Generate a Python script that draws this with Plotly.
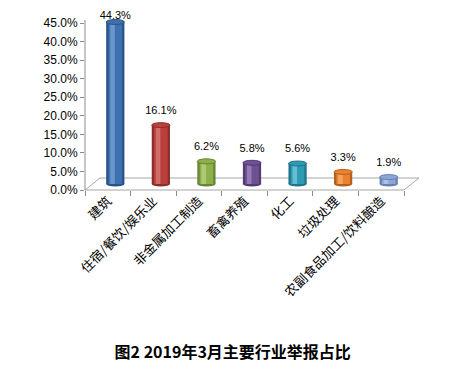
import plotly.graph_objects as go

categories = ["建筑", "住宿/餐饮/娱乐业", "非金属加工制造", "畜禽养殖", "化工", "垃圾处理", "农副食品加工/饮料酿造"]
values = [44.3, 16.1, 6.2, 5.8, 5.6, 3.3, 1.9]
y_ticks = [0, 5, 10, 15, 20, 25, 30, 35, 40, 45]
y_tick_labels = ["0.0%", "5.0%", "10.0%", "15.0%", "20.0%", "25.0%", "30.0%", "35.0%", "40.0%", "45.0%"]
title_text = "图2 2019年3月主要行业举报占比"

base_colors = ["#3F71AE", "#B8413E", "#8DB04A", "#6E5193", "#2E9BB5", "#E9822E", "#8CA6D6"]
dark_colors = ["#2B5287", "#8E2C2A", "#678534", "#513B6F", "#1F7489", "#B65F1C", "#6681B3"]
light_colors = ["#7FA6D8", "#DB7F7C", "#BCD68A", "#A68CC4", "#7FCCE0", "#F9B47A", "#BCCDEC"]
label_pad = [0, 12, 12, 12, 12, 12, 12]

fig = go.Figure()

# invisible trace so the visible axes (x/y) are rendered
fig.add_trace(go.Scatter(
    x=categories, y=values, mode="markers", marker=dict(opacity=0),
    hoverinfo="skip", showlegend=False,
))

# dark body (edges)
fig.add_trace(go.Bar(
    x=categories, y=values, xaxis="x2", yaxis="y2", width=0.40,
    marker=dict(color=dark_colors, line=dict(width=0)),
    hoverinfo="skip", showlegend=False,
))
# main colour
fig.add_trace(go.Bar(
    x=categories, y=values, xaxis="x2", yaxis="y2", width=0.30,
    marker=dict(color=base_colors, line=dict(width=0)),
    hoverinfo="skip", showlegend=False,
))
# highlight
fig.add_trace(go.Bar(
    x=categories, y=values, xaxis="x2", yaxis="y2", width=0.10, offset=-0.11,
    marker=dict(color=light_colors, line=dict(width=0), opacity=0.7),
    hoverinfo="skip", showlegend=False,
))
# data labels
fig.add_trace(go.Scatter(
    x=categories, y=values, xaxis="x2", yaxis="y2", mode="markers+text",
    marker=dict(size=label_pad, opacity=0),
    text=[f"{v:.1f}%" for v in values], textposition="top center",
    textfont=dict(family="Liberation Sans, Arial", size=11, color="#000000"),
    cliponaxis=False, hoverinfo="skip", showlegend=False,
))

# plot area: figure y 0..182 (page 8..190); x 77..396 (page 85..404)
plot_h = 182
px_main = 167 / 45
y_main_top = 45 + 15 / px_main

# floor (3D look) in paper coords
dx, dy = 15 / 319, 12 / plot_h
shapes = [
    dict(type="path", xref="paper", yref="paper",
         path=f"M 0 0 L 1 0 L {1+dx} {dy} L {dx} {dy} Z",
         line=dict(color="#A6A6A6", width=1), fillcolor="rgba(255,255,255,0)", layer="below"),
    dict(type="line", xref="paper", yref="y", x0=0, x1=0, y0=0, y1=45.8,
         line=dict(color="#8C8C8C", width=1), layer="below"),
]
# cylinder caps (computed from data)
hy = 0.68
for i, v in enumerate(values):
    shapes.append(dict(type="circle", xref="x2", yref="y2",
                       x0=i - 0.2, x1=i + 0.2, y0=-hy, y1=hy,
                       fillcolor=dark_colors[i], line=dict(width=0), layer="below"))
    shapes.append(dict(type="circle", xref="x2", yref="y2",
                       x0=i - 0.2, x1=i + 0.2, y0=v - hy, y1=v + hy,
                       fillcolor=base_colors[i], line=dict(color=dark_colors[i], width=1), layer="above"))

shift = 7.5 / 45.6
px_per_unit = 162 / 44.3
y2_low = -6 / px_per_unit
y2_high = 44.3 + 14 / px_per_unit

fig.update_layout(
    width=445, height=361,
    margin=dict(l=77, r=49, t=0, b=179, autoexpand=False),
    paper_bgcolor="white", plot_bgcolor="rgba(0,0,0,0)",
    barmode="overlay",
    shapes=shapes,
    xaxis=dict(
        type="category", categoryorder="array", categoryarray=categories,
        range=[-0.5, 6.5], automargin=False,
        tickangle=-45, ticks="outside", tickson="boundaries", ticklen=5,
        tickcolor="#8C8C8C", showline=False, showgrid=False, zeroline=False,
        tickfont=dict(family="Noto Sans CJK SC", size=13, color="#000000"),
    ),
    yaxis=dict(
        range=[0, y_main_top], tickvals=y_ticks, ticktext=y_tick_labels, automargin=False,
        ticks="outside", ticklen=4, tickcolor="#8C8C8C",
        showline=False, showgrid=False, zeroline=False,
        tickfont=dict(family="Liberation Sans, Arial", size=12, color="#000000"),
    ),
    xaxis2=dict(
        type="category", categoryorder="array", categoryarray=categories,
        overlaying="x", range=[-0.5 - shift, 6.5 - shift], visible=False,
    ),
    yaxis2=dict(overlaying="y", range=[y2_low, y2_high], visible=False),
    title=dict(
        text=f"<b>{title_text}</b>", x=0.505, xanchor="center",
        y=1 - 344 / 361, yanchor="middle", yref="container",
        font=dict(family="Noto Sans CJK SC", size=16, color="#000000"),
    ),
)

fig.write_html("out.html")
